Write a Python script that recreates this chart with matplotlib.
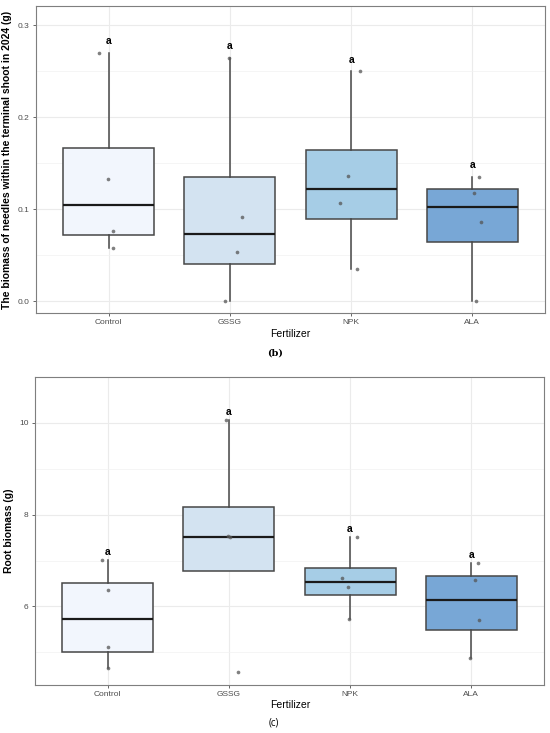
import matplotlib
matplotlib.use("Agg")
import matplotlib.pyplot as plt
import numpy as np

plt.rcParams['font.family'] = ['Liberation Sans', 'DejaVu Sans']

categories = ["Control", "GSSG", "NPK", "ALA"]

needles = {
    "Control": [0.2695, 0.1326, 0.0766, 0.0578],
    "GSSG":    [0.2641, 0.0912, 0.0538, 0.0000],
    "NPK":     [0.2496, 0.1362, 0.1068, 0.0352],
    "ALA":     [0.1348, 0.1177, 0.0857, 0.0000],
}
roots = {
    "Control": [7.018, 6.349, 5.113, 4.669],
    "GSSG":    [10.058, 7.535, 7.513, 4.567],
    "NPK":     [7.520, 6.618, 6.429, 5.724],
    "ALA":     [6.953, 6.582, 5.695, 4.887],
}
letters = ["a", "a", "a", "a"]

# horizontal jitter of the points (position only)
jit_top = {
    "Control": [-0.083, -0.006, 0.033, 0.033],
    "GSSG":    [-0.008, 0.100, 0.055, -0.039],
    "NPK":     [0.075, -0.028, -0.091, 0.052],
    "ALA":     [0.055, 0.011, 0.075, 0.033],
}
jit_bot = {
    "Control": [-0.050, 0.000, 0.000, 0.003],
    "GSSG":    [-0.025, -0.008, 0.005, 0.075],
    "NPK":     [0.060, -0.066, -0.017, -0.011],
    "ALA":     [0.055, 0.033, 0.066, -0.014],
}

fills = ["#F2F6FD", "#D3E3F1", "#A6CDE6", "#78A7D6"]
edge = "#474747"


def panel(ax, data, jit, ylim, yticks, minor, ylabel, offset):
    pos = np.arange(1, len(categories) + 1)
    vals = [data[c] for c in categories]
    bp = ax.boxplot(vals, positions=pos, widths=0.75, patch_artist=True,
                    showfliers=False, whis=1.5, zorder=3,
                    boxprops=dict(edgecolor=edge, linewidth=1.1),
                    whiskerprops=dict(color=edge, linewidth=1.1),
                    capprops=dict(linewidth=0),
                    medianprops=dict(color="#1a1a1a", linewidth=1.6))
    for patch, col in zip(bp['boxes'], fills):
        patch.set_facecolor(col)
    for i, c in enumerate(categories):
        ax.scatter(np.full(len(data[c]), pos[i]) + np.array(jit[c]), data[c],
                   s=7, color="#555555", alpha=0.75, zorder=4, linewidths=0)
        ax.text(pos[i], max(data[c]) + offset, letters[i], ha='center', va='center',
                fontsize=7.5, fontweight='bold', zorder=5)
    ax.set_xlim(0.4, 4.6)
    ax.set_ylim(*ylim)
    ax.set_xticks(pos)
    ax.set_xticklabels(categories)
    ax.set_yticks(yticks)
    ax.set_yticks(minor, minor=True)
    ax.grid(True, which='major', color="#EBEBEB", linewidth=0.8, zorder=0)
    ax.grid(True, which='minor', axis='y', color="#F2F2F2", linewidth=0.5, zorder=0)
    ax.set_axisbelow(True)
    ax.tick_params(axis='both', which='major', labelsize=6, colors="#4D4D4D",
                   length=2.5, width=0.6, pad=2)
    ax.tick_params(axis='y', which='minor', length=0)
    for s in ax.spines.values():
        s.set_color("#7F7F7F")
        s.set_linewidth(0.8)
    ax.set_ylabel(ylabel, fontsize=7.5, fontweight='bold', labelpad=4)


fig = plt.figure(figsize=(5.5, 7.33), dpi=100)
ax1 = fig.add_axes([0.0655, 0.573, 0.9255, 0.4188])
panel(ax1, needles, jit_top, (-0.013, 0.3207), [0.0, 0.1, 0.2, 0.3],
      [0.05, 0.15, 0.25], "The biomass of needles within the terminal shoot in 2024 (g)", 0.0127)
ax1.set_yticklabels(["0.0", "0.1", "0.2", "0.3"])

ax2 = fig.add_axes([0.0636, 0.0655, 0.9255, 0.4202])
panel(ax2, roots, jit_bot, (4.29, 11.0), [6, 8, 10], [5, 7, 9, 11],
      "Root biomass (g)", 0.175)

fig.text(290 / 550, 1 - 334 / 733, "Fertilizer", ha='center', va='center', fontsize=7.5)
fig.text(275 / 550, 1 - 353 / 733, "(b)", ha='center', va='center', fontsize=7,
         family='DejaVu Serif', fontweight='bold')
fig.text(290 / 550, 1 - 705 / 733, "Fertilizer", ha='center', va='center', fontsize=7.5)
fig.text(274 / 550, 1 - 723 / 733, "(c)", ha='center', va='center', fontsize=7,
         family='Open Sans')

fig.savefig("out.png", dpi=100)
